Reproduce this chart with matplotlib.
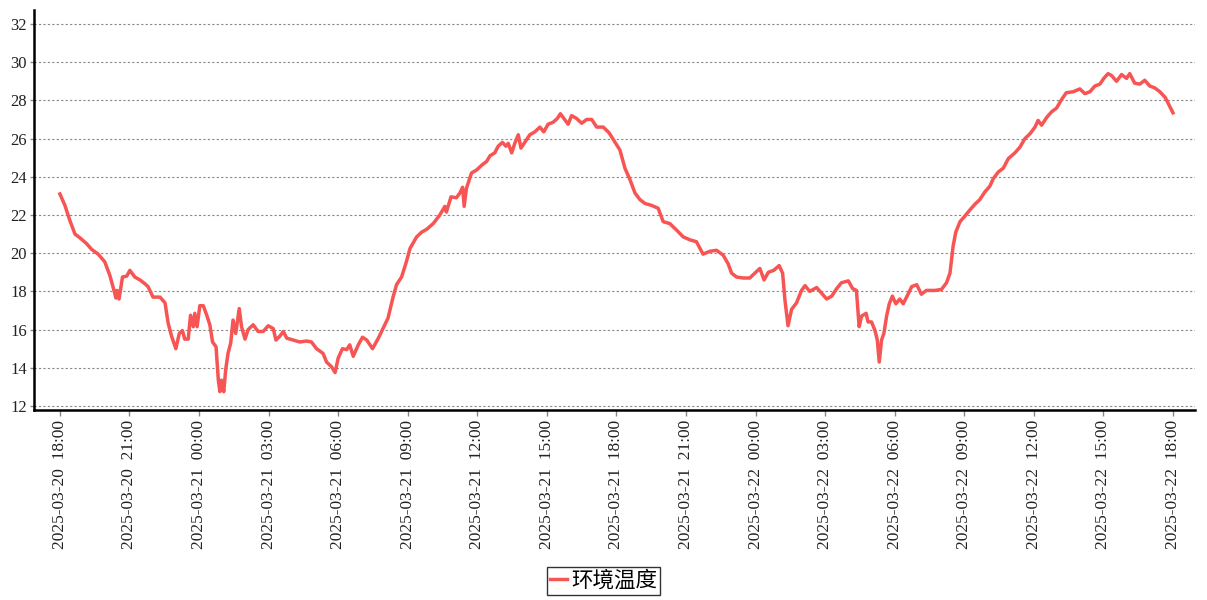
import matplotlib
matplotlib.use("Agg")
import matplotlib.pyplot as plt
import matplotlib.dates as mdates
import pandas as pd

start = "2025-03-20 18:00"
series_name = "环境温度"

# minutes since start
minutes = [0, 13, 26, 39, 52, 69, 82, 99, 116, 129, 140, 145, 148, 153, 162, 173, 181, 194, 207, 220,
           228, 241, 259, 272, 280, 289, 300, 309, 317, 323, 332, 338, 345, 349, 355, 362, 371, 380, 388, 395,
           404, 410, 414, 418, 424, 429, 435, 442, 448, 455, 464, 470, 479, 487, 500, 513, 526, 539, 552, 559,
           569, 578, 587, 604, 621, 638, 651, 664, 681, 690, 703, 712, 720, 731, 742, 750, 759, 772, 783, 794,
           809, 824, 836, 849, 862, 871, 884, 895, 906, 923, 936, 949, 966, 983, 996, 1000, 1012, 1026, 1035, 1042,
           1046, 1052, 1065, 1078, 1091, 1104, 1113, 1125, 1134, 1145, 1154, 1160, 1169, 1177, 1186, 1193, 1203, 1216, 1229, 1242,
           1252, 1263, 1276, 1287, 1295, 1304, 1315, 1324, 1337, 1350, 1363, 1376, 1389, 1406, 1421, 1432, 1449, 1462, 1475, 1488,
           1501, 1514, 1531, 1548, 1561, 1578, 1596, 1613, 1630, 1647, 1664, 1682, 1699, 1716, 1729, 1738, 1751, 1768, 1785, 1798,
           1811, 1822, 1833, 1847, 1861, 1870, 1876, 1884, 1893, 1906, 1919, 1928, 1940, 1958, 1971, 1984, 1997, 2010, 2022, 2040,
           2051, 2061, 2068, 2074, 2086, 2091, 2100, 2109, 2115, 2120, 2126, 2132, 2139, 2146, 2154, 2163, 2173, 2182, 2192, 2204,
           2217, 2229, 2242, 2264, 2281, 2294, 2303, 2307, 2311, 2318, 2329, 2342, 2354, 2367, 2380, 2393, 2406, 2415, 2428, 2441,
           2454, 2471, 2484, 2497, 2510, 2523, 2531, 2540, 2553, 2566, 2579, 2592, 2604, 2622, 2639, 2652, 2665, 2678, 2691, 2701,
           2712, 2721, 2734, 2747, 2760, 2768, 2781, 2794, 2807, 2820, 2833, 2846, 2860, 2870, 2880]

temps = [23.1, 22.5, 21.7, 21.0, 20.8, 20.5, 20.2, 19.95, 19.55, 18.85, 18.05, 17.65, 18.05, 17.6, 18.75, 18.8, 19.1, 18.75, 18.6, 18.4,
         18.25, 17.7, 17.7, 17.4, 16.35, 15.65, 15.0, 15.8, 15.95, 15.5, 15.5, 16.75, 16.15, 16.85, 16.15, 17.25, 17.25, 16.75, 16.25, 15.35,
         15.1, 13.35, 12.75, 13.35, 12.75, 13.9, 14.75, 15.3, 16.5, 15.8, 17.1, 16.15, 15.5, 16.0, 16.25, 15.9, 15.9, 16.2, 16.05, 15.45,
         15.65, 15.9, 15.55, 15.45, 15.35, 15.4, 15.35, 15.0, 14.75, 14.3, 14.05, 13.75, 14.5, 15.0, 14.95, 15.2, 14.6, 15.2, 15.6, 15.45,
         15.0, 15.55, 16.05, 16.6, 17.7, 18.35, 18.75, 19.45, 20.25, 20.85, 21.1, 21.25, 21.55, 22.0, 22.45, 22.15, 22.95, 22.9, 23.15, 23.45,
         22.45, 23.4, 24.2, 24.35, 24.6, 24.8, 25.1, 25.25, 25.6, 25.8, 25.6, 25.75, 25.25, 25.75, 26.2, 25.5, 25.8, 26.2, 26.35, 26.6,
         26.35, 26.75, 26.85, 27.05, 27.3, 27.05, 26.75, 27.2, 27.05, 26.8, 27.0, 27.0, 26.6, 26.6, 26.3, 25.95, 25.4, 24.45, 23.85, 23.15,
         22.8, 22.6, 22.5, 22.35, 21.65, 21.55, 21.2, 20.85, 20.7, 20.6, 19.95, 20.1, 20.15, 19.9, 19.45, 18.95, 18.75, 18.7, 18.7, 18.95,
         19.2, 18.6, 19.0, 19.1, 19.35, 18.95, 17.55, 16.2, 17.05, 17.4, 18.05, 18.3, 18.0, 18.2, 17.9, 17.6, 17.75, 18.15, 18.45, 18.55,
         18.15, 18.05, 16.15, 16.7, 16.85, 16.4, 16.4, 15.95, 15.45, 14.3, 15.45, 15.8, 16.7, 17.35, 17.75, 17.35, 17.6, 17.35, 17.75, 18.25,
         18.35, 17.85, 18.05, 18.05, 18.1, 18.45, 18.95, 19.65, 20.35, 21.1, 21.65, 21.95, 22.25, 22.55, 22.8, 23.2, 23.5, 23.9, 24.25, 24.45,
         24.95, 25.25, 25.55, 26.0, 26.25, 26.6, 26.95, 26.7, 27.1, 27.4, 27.6, 28.05, 28.4, 28.45, 28.6, 28.35, 28.45, 28.75, 28.85, 29.15,
         29.4, 29.3, 29.0, 29.35, 29.15, 29.4, 28.9, 28.85, 29.05, 28.75, 28.65, 28.45, 28.15, 27.75, 27.35]

y_ticks = [12, 14, 16, 18, 20, 22, 24, 26, 28, 30, 32]

times = pd.Timestamp(start) + pd.to_timedelta(minutes, unit="min")

fig = plt.figure(figsize=(12.07, 6.0), dpi=100)
ax = fig.add_axes([34 / 1207, 1 - 410 / 600, (1195 - 34) / 1207, 400 / 600])

line, = ax.plot(times, temps, color="#f75454", lw=2.5, label=series_name, solid_joinstyle="round")

t0 = pd.Timestamp(start)
ax.set_xlim(t0 - pd.Timedelta(minutes=67), t0 + pd.Timedelta(minutes=2937))
ax.set_ylim(11.79, 32.73)
ax.set_yticks(y_ticks)

ax.xaxis.set_major_locator(mdates.HourLocator(byhour=range(0, 24, 3)))
ax.xaxis.set_major_formatter(mdates.DateFormatter("%Y-%m-%d  %H:%M"))

for lab in ax.get_yticklabels():
    lab.set_fontfamily("Liberation Serif")
    lab.set_fontsize(12)
    lab.set_color("#222222")
for lab in ax.get_xticklabels():
    lab.set_fontfamily("Liberation Serif")
    lab.set_fontsize(12.5)
    lab.set_color("#222222")
plt.setp(ax.get_xticklabels(), rotation=90)

ax.tick_params(axis="x", length=4, width=1, color="#888888", pad=3)
ax.tick_params(axis="y", length=3, width=1, color="#888888", pad=2)

ax.grid(axis="y", linestyle=(0, (2, 2)), color="#888888", lw=0.8)
ax.grid(axis="x", visible=False)

for s in ["top", "right"]:
    ax.spines[s].set_visible(False)
for s in ["left", "bottom"]:
    ax.spines[s].set_linewidth(1.8)
    ax.spines[s].set_color("black")

leg = fig.legend(handles=[line], loc="center", bbox_to_anchor=(0.5, 1 - 581 / 600),
                 prop={"family": ["Noto Sans CJK SC", "DejaVu Sans"], "size": 15.5},
                 frameon=True, fancybox=False, shadow=False, handlelength=0.8,
                 handletextpad=0.2, borderpad=0.15, borderaxespad=0)
leg.get_frame().set_edgecolor("black")
leg.get_frame().set_linewidth(1.0)

fig.savefig("out.png", dpi=100)
